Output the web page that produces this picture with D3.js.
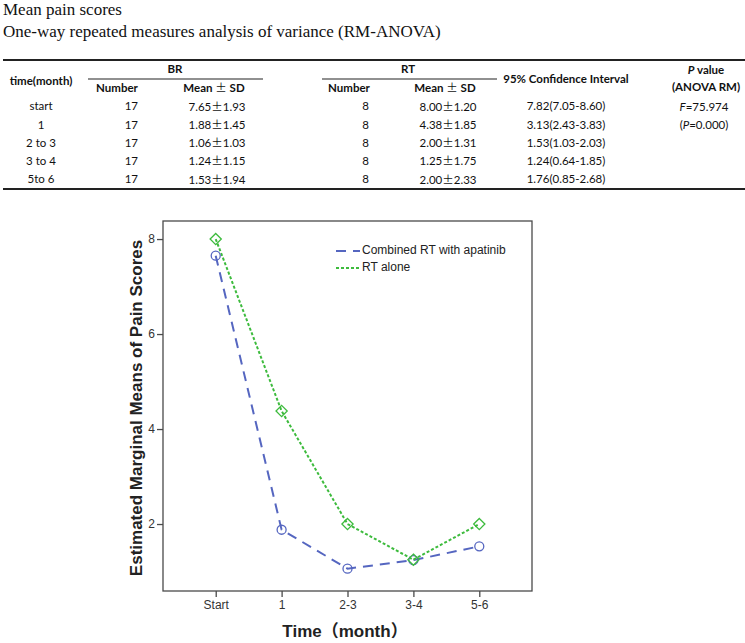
<!DOCTYPE html>
<html>
<head>
<meta charset="utf-8">
<script src="https://cdn.jsdelivr.net/npm/d3@7"></script>
<style>
  html, body { margin: 0; padding: 0; background: #fff; }
  svg { display: block; }
</style>
</head>
<body>
<svg id="chart" width="745" height="643"></svg>
<script>
// ---------------- data ----------------
const titleLines = ["Mean pain scores", "One-way repeated measures analysis of variance (RM-ANOVA)"];
const timeLabels = ["start", "1", "2 to 3", "3 to 4", "5to 6"];
const brNumber = [17, 17, 17, 17, 17];
const brMean = [7.65, 1.88, 1.06, 1.24, 1.53];
const brSD = [1.93, 1.45, 1.03, 1.15, 1.94];
const rtNumber = [8, 8, 8, 8, 8];
const rtMean = [8.00, 4.38, 2.00, 1.25, 2.00];
const rtSD = [1.20, 1.85, 1.31, 1.75, 2.33];
const ciMean = [7.82, 3.13, 1.53, 1.24, 1.76];
const ciLow = [7.05, 2.43, 1.03, 0.64, 0.85];
const ciHigh = [8.60, 3.83, 2.03, 1.85, 2.68];
const fValue = "75.974";
const pValue = "0.000";

const xLabels = ["Start", "1", "2-3", "3-4", "5-6"];
const yTicks = [2, 4, 6, 8];
const seriesNames = ["Combined RT with apatinib", "RT alone"];

// ---------------- drawing ----------------
const svg = d3.select("#chart");
const tableFont = "Lato, 'Open Sans', sans-serif";
const pm = "\u00B1";

// titles
svg.selectAll("text.title").data(titleLines).join("text")
  .attr("class", "title")
  .attr("x", 3).attr("y", (d, i) => 15 + i * 22)
  .attr("font-family", "'Liberation Serif', 'DejaVu Serif', serif")
  .attr("font-size", 17).attr("fill", "#111")
  .text(d => d);

// table rules
const T = svg.append("g");
T.append("line").attr("x1", 3).attr("x2", 745).attr("y1", 60).attr("y2", 60).attr("stroke", "#222").attr("stroke-width", 2);
T.append("line").attr("x1", 3).attr("x2", 745).attr("y1", 189).attr("y2", 189).attr("stroke", "#222").attr("stroke-width", 2);
T.append("line").attr("x1", 88).attr("x2", 263).attr("y1", 79).attr("y2", 79).attr("stroke", "#222").attr("stroke-width", 1.2);
T.append("line").attr("x1", 322).attr("x2", 497).attr("y1", 79).attr("y2", 79).attr("stroke", "#222").attr("stroke-width", 1.2);

function txt(x, y, anchor, bold) {
  return T.append("text").attr("x", x).attr("y", y)
    .attr("text-anchor", anchor).attr("dominant-baseline", "middle")
    .attr("font-family", tableFont).attr("font-size", 11.5)
    .attr("font-weight", bold ? "bold" : "normal").attr("fill", "#111");
}
function meanSD(sel, m, s) {
  sel.append("tspan").text(m);
  sel.append("tspan").attr("font-family", "'Noto Sans CJK SC'").attr("font-weight", "normal").text(pm);
  sel.append("tspan").text(s);
}

txt(41, 82, "middle", true).text("time(month)");
txt(175, 70, "middle", true).text("BR");
txt(408, 70, "middle", true).text("RT");
txt(566, 80, "middle", true).text("95% Confidence Interval");
const pv = txt(706, 71, "middle", true);
pv.append("tspan").attr("font-style", "italic").text("P");
pv.append("tspan").text(" value");
txt(706, 88, "middle", true).text("(ANOVA RM)");
txt(117, 89, "middle", true).text("Number");
{ const s = txt(214, 89, "middle", true); s.append("tspan").text("Mean "); s.append("tspan").attr("font-family", "'Noto Sans CJK SC'").attr("font-weight", "normal").text(pm); s.append("tspan").text(" SD"); }
txt(349, 89, "middle", true).text("Number");
{ const s = txt(445, 89, "middle", true); s.append("tspan").text("Mean "); s.append("tspan").attr("font-family", "'Noto Sans CJK SC'").attr("font-weight", "normal").text(pm); s.append("tspan").text(" SD"); }

const rowY = d3.scaleLinear().domain([0, 4]).range([107.5, 180.5]);
timeLabels.forEach((t, i) => {
  const y = rowY(i);
  txt(41, y, "middle", false).text(t);
  txt(138, y, "end", false).text(brNumber[i]);
  meanSD(txt(217, y, "middle", false), brMean[i].toFixed(2), brSD[i].toFixed(2));
  txt(369, y, "end", false).text(rtNumber[i]);
  meanSD(txt(448, y, "middle", false), rtMean[i].toFixed(2), rtSD[i].toFixed(2));
  txt(566, y, "middle", false).text(ciMean[i].toFixed(2) + "(" + ciLow[i].toFixed(2) + "-" + ciHigh[i].toFixed(2) + ")");
});
{ const s = txt(704, rowY(0), "middle", false); s.append("tspan").attr("font-style", "italic").text("F"); s.append("tspan").text("=" + fValue); }
{ const s = txt(704, rowY(1), "middle", false); s.append("tspan").text("("); s.append("tspan").attr("font-style", "italic").text("P"); s.append("tspan").text("=" + pValue + ")"); }

// ---------------- chart ----------------
const L = 163, R = 532, TOP = 221, B = 591;
const x = d3.scalePoint().domain(xLabels).range([L, R]).padding(0.8);
const y = d3.scaleLinear().domain([0.59, 8.38]).range([B, TOP]);
const C = svg.append("g");
const axisFont = "'Liberation Sans', Arial, sans-serif";

C.append("rect").attr("x", L).attr("y", TOP).attr("width", R - L).attr("height", B - TOP)
  .attr("fill", "none").attr("stroke", "#4a4a4a").attr("stroke-width", 1.3);

const xa = C.append("g").attr("transform", `translate(0,${B})`).call(d3.axisBottom(x).tickSize(6).tickPadding(3));
const ya = C.append("g").attr("transform", `translate(${L},0)`).call(d3.axisLeft(y).tickValues(yTicks).tickSize(6).tickPadding(2).tickFormat(d3.format("d")));
[xa, ya].forEach(a => {
  a.select(".domain").remove();
  a.selectAll("line").attr("stroke", "#4a4a4a").attr("stroke-width", 1.3);
  a.selectAll("text").attr("font-family", axisFont).attr("font-size", 12).attr("fill", "#333");
});

C.append("text").attr("transform", `translate(142,408) rotate(-90)`)
  .attr("text-anchor", "middle").attr("font-family", axisFont).attr("font-weight", "bold")
  .attr("font-size", 17).attr("fill", "#222").text("Estimated Marginal Means of Pain Scores");
C.append("text").attr("x", 345).attr("y", 637)
  .attr("text-anchor", "middle").attr("font-family", axisFont + ", 'Noto Sans CJK SC'").attr("font-weight", "bold")
  .attr("font-size", 17).attr("fill", "#222")
  .text("Time（month）");

const blue = "#5566c0", green = "#3dbb3d";
const line = d3.line().x((d, i) => x(xLabels[i])).y(d => y(d));

C.append("path").datum(brMean).attr("d", line).attr("fill", "none")
  .attr("stroke", blue).attr("stroke-width", 2).attr("stroke-dasharray", "10,7");
C.append("path").datum(rtMean).attr("d", line).attr("fill", "none")
  .attr("stroke", green).attr("stroke-width", 2).attr("stroke-dasharray", "3,2");

C.selectAll("circle.br").data(brMean).join("circle").attr("class", "br")
  .attr("cx", (d, i) => x(xLabels[i])).attr("cy", d => y(d)).attr("r", 4.5)
  .attr("fill", "none").attr("stroke", blue).attr("stroke-width", 1.3);
const dsym = d3.symbol().type(d3.symbolDiamond2).size(80);
C.selectAll("path.rt").data(rtMean).join("path").attr("class", "rt")
  .attr("transform", (d, i) => `translate(${x(xLabels[i])},${y(d)})`)
  .attr("d", dsym).attr("fill", "none").attr("stroke", green).attr("stroke-width", 1.3);

// legend
const lg = C.append("g");
[[blue, "10,7"], [green, "3,2"]].forEach((s, i) => {
  const ly = 251 + i * 17;
  lg.append("line").attr("x1", 336).attr("x2", 360).attr("y1", ly).attr("y2", ly)
    .attr("stroke", s[0]).attr("stroke-width", 2).attr("stroke-dasharray", s[1]);
  lg.append("text").attr("x", 362).attr("y", ly).attr("dominant-baseline", "middle")
    .attr("font-family", axisFont).attr("font-size", 12).attr("fill", "#222").text(seriesNames[i]);
});
</script>
</body>
</html>
